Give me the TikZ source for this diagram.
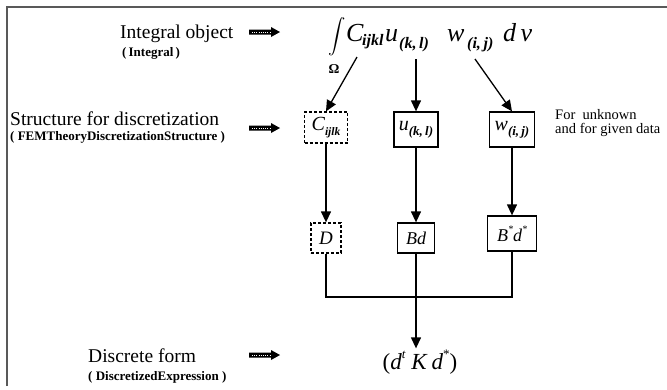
\documentclass[tikz,border=0pt]{standalone}
\usepackage{amsmath}
\usepackage{fontspec}
\setmainfont{Liberation Serif}
\usetikzlibrary{arrows.meta}
\newcommand{\sbx}[2][12]{\raisebox{-0.25em}{\fontsize{#1}{#1}\selectfont\bfseries\itshape #2}}
\newcommand{\spx}[2][10]{\raisebox{0.5em}{\fontsize{#1}{#1}\selectfont #2}}
\begin{document}
\begin{tikzpicture}[x=1pt,y=-1pt,
  lbl/.style={anchor=base west, inner sep=0, font=\fontsize{19.5}{22}\selectfont},
  sublbl/.style={anchor=base west, inner sep=0, font=\fontsize{13}{14}\selectfont\bfseries},
  note/.style={anchor=base west, inner sep=0, font=\fontsize{14.5}{15}\selectfont},
  mth/.style={anchor=base west, inner sep=0, font=\fontsize{26}{28}\selectfont\itshape},
  msub/.style={anchor=base west, inner sep=0, font=\fontsize{16}{16}\selectfont\bfseries\itshape},
  sbox/.style={draw, line width=1.3pt, inner sep=0, font=\fontsize{20}{22}\selectfont\itshape},
  dbox/.style={sbox, dash pattern=on 3pt off 2pt},
  conn/.style={line width=1.3pt},
  arr/.style={conn, -{Triangle[length=11pt,width=10pt]}},
  fatarr/.pic={
    \fill (0,-2.5) -- (22,-2.5) -- (22,-5) -- (31,0) -- (22,5) -- (22,2.5) -- (0,2.5) -- cycle;
    \draw[white, line width=0.7pt, dash pattern=on 1pt off 1.2pt] (3,0) -- (21,0);
  }
]
\useasboundingbox (0,0) rectangle (667,389);
% frame
\draw[line width=1.2pt, black!65] (7,386) -- (7,7) -- (667,7);

% left labels
\node[lbl] (t1) at (120,38) {Integral object};
\node[sublbl] (t1s) at (122,56) {(\,Integral\,)};
\node[lbl] (t2) at (10,125) {Structure for discretization};
\node[sublbl] (t2s) at (10,140) {( FEMTheoryDiscretizationStructure )};
\node[lbl] (t3) at (88,362) {Discrete form};
\node[sublbl] (t3s) at (88,380) {( DiscretizedExpression )};

\pic at (249,32) {fatarr};
\pic at (249,128) {fatarr};
\pic at (249,355) {fatarr};

% integral expression
\node[inner sep=0, font=\fontsize{17.5}{17.5}\selectfont] (nint) at (337,37) {$\displaystyle\int$};
\node[inner sep=0, font=\fontsize{13.5}{13.5}\selectfont\bfseries] (nOm) at (334,69) {Ω};
\node[mth] (nC) at (346,41) {C};
\node[msub] (nCs) at (362,45) {ijkl};
\node[mth] (nu) at (385,41) {u};
\node[msub] (nus) at (399,48) {(k,\,l)};
\node[mth] (nw) at (447,41) {w};
\node[msub] (nws) at (467,48) {(i,\,j)};
\node[mth] (ndv) at (503,41) {d\,v};

% boxes
\node[dbox, minimum width=43pt, minimum height=31pt] (bC) at (326,127.5) {C\sbx[11.5]{ijlk}};
\node[sbox, minimum width=44pt, minimum height=35pt] (bu) at (416,129.5) {u\sbx[13]{(k,\,l)}};
\node[sbox, minimum width=45pt, minimum height=35pt] (bw) at (512,129.5) {w\sbx[13]{(i,\,j)}};
\node[dbox, minimum width=30pt, minimum height=30pt, font=\fontsize{19}{22}\selectfont\itshape] (bD) at (326,238) {D};
\node[sbox, minimum width=37pt, minimum height=30pt, font=\fontsize{18}{22}\selectfont\itshape] (bB) at (416,238) {Bd};
\node[sbox, minimum width=49pt, minimum height=35pt, font=\fontsize{18}{22}\selectfont\itshape] (bBs) at (512,233.5) {B\spx{*}d\spx{*}};

\node[note] (n1) at (555,119) {For\ \ unknown};
\node[note] (n2) at (555,133) {and for given data};

\node[inner sep=1pt, font=\fontsize{23}{26}\selectfont] (res) at (420,362) {(\textit{d}\spx[13]{\textit{t}}\ \textit{K}\,\textit{d}\spx[13]{*})};

% connectors
\coordinate (sC) at (357,57);
\coordinate (su) at (416,59);
\coordinate (sw) at (475,59);
\draw[arr] (sC) -- (bC.north);
\draw[arr] (su) -- (bu.north);
\draw[arr] (sw) -- (bw.north);
\draw[arr] (bC.south) -- (bD.north);
\draw[arr] (bu.south) -- (bB.north);
\draw[arr] (bw.south) -- (bBs.north);
\coordinate (j) at (416,297);
\draw[conn] (bD.south) |- (j) -| (bBs.south);
\draw[arr] (bB.south) -- (bB.south |- res.north);
\end{tikzpicture}
\end{document}
